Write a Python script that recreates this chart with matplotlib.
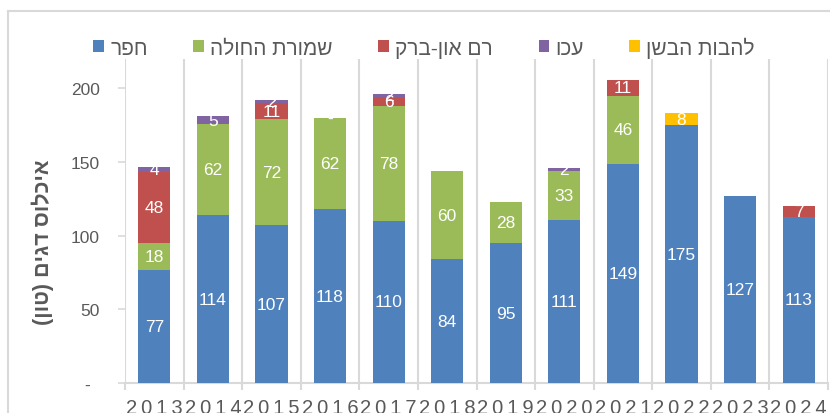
import numpy as np
import matplotlib.pyplot as plt
from matplotlib.patches import Patch
from matplotlib.lines import Line2D

plt.rcParams['font.family'] = ['Liberation Sans', 'DejaVu Sans']

years = ['2013', '2014', '2015', '2016', '2017', '2018', '2019', '2020', '2021', '2022', '2023', '2024']
names = ['חפר', 'שמורת החולה', 'רם און-ברק', 'עכו', 'להבות הבשן']
hefer = [77, 114, 107, 118, 110, 84, 95, 111, 149, 175, 127, 113]
hula = [18, 62, 72, 62, 78, 60, 28, 33, 46, None, None, None]
ram_on_barak = [48, None, 11, None, 6, None, None, None, 11, None, None, 7]
akko = [4, 5, 2, 0, 2, None, None, 2, None, None, None, None]
lehavot_habashan = [None, None, None, None, None, None, None, None, None, 8, None, None]
y_label = 'איכלוס דגים (טון)'

colors = ['#4F81BD', '#9BBB59', '#C0504D', '#8064A2', '#FFC000']
grey = '#595959'
line_grey = '#D9D9D9'


def rtl(s):
    # matplotlib has no bidi, so flip hebrew to visual order
    return s[::-1].translate(str.maketrans('()', ')('))


fig = plt.figure(figsize=(8.3, 4.14), dpi=100)
ax = fig.add_axes([125 / 830, 30 / 414, 703 / 830, 324 / 414])

x = np.arange(len(years))
bottom = np.zeros(len(years))
for vals, col in zip([hefer, hula, ram_on_barak, akko, lehavot_habashan], colors):
    v = np.array([np.nan if a is None else a for a in vals], dtype=float)
    h = np.nan_to_num(v)
    ax.bar(x, h, 0.55, bottom=bottom, color=col, zorder=3)
    for i in range(len(x)):
        if np.isnan(v[i]):
            continue
        lab = '-' if v[i] == 0 else str(int(v[i]))
        ax.text(x[i], bottom[i] + h[i] / 2, lab, ha='center', va='center',
                color='white', fontsize=12.5, zorder=4)
    bottom = bottom + h

ax.set_xlim(-0.5, len(years) - 0.5)
ax.set_ylim(0, 220)

# vertical gridlines between the categories
for b in np.arange(-0.5, len(years), 1.0):
    ax.axvline(b, color=line_grey, lw=1.5, zorder=1)

for s in ['top', 'right', 'left']:
    ax.spines[s].set_visible(False)
ax.spines['bottom'].set_color(line_grey)
ax.spines['bottom'].set_linewidth(1.5)

ax.set_yticks([0, 50, 100, 150, 200])
ax.set_yticklabels(['-  ', '50', '100', '150', '200'])
ax.tick_params(axis='y', length=5, width=1.2, color=line_grey, pad=13, labelsize=12.5, labelcolor=grey)

# spaced out year labels like the excel original
ax.set_xticks(x)
ax.set_xticklabels(['\u2009'.join(y) for y in years])
ax.tick_params(axis='x', length=0, pad=11, labelsize=14.5, labelcolor=grey)
ax.set_xticks(np.arange(-0.5, len(years), 1.0), minor=True)
ax.tick_params(axis='x', which='minor', length=5, width=1.5, color=line_grey)

fig.text(43 / 830, 1 - 242 / 414, rtl(y_label), rotation=90, ha='center', va='center',
         fontsize=15.5, fontweight='bold', color=grey)

handles = [Patch(facecolor=c) for c in colors]
fig.legend(handles, [rtl(n) for n in names], loc='center', ncol=5,
           bbox_to_anchor=(424 / 830, 1 - 48 / 414), frameon=False, fontsize=15,
           labelcolor=grey, handlelength=0.5, handleheight=0.5, handletextpad=0.3,
           columnspacing=2.2)

# chart area border
top = 1 - 12 / 414
left = 8 / 830
fig.add_artist(Line2D([left, 1], [top, top], transform=fig.transFigure, color=line_grey, lw=1.5))
fig.add_artist(Line2D([left, left], [0, top], transform=fig.transFigure, color=line_grey, lw=1.5))

fig.savefig('out.png', dpi=100)
